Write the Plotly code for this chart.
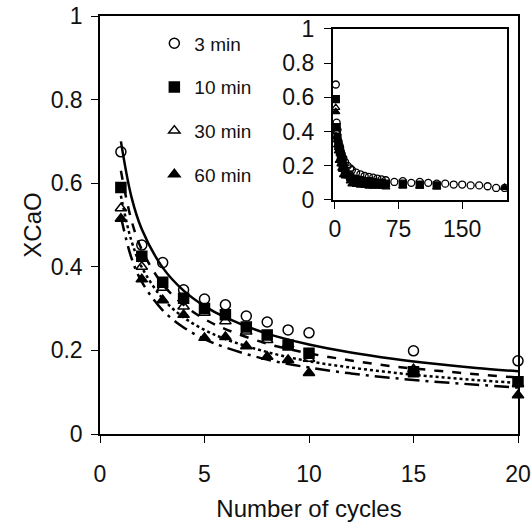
import plotly.graph_objects as go

# ---------------- data ----------------
cycles = [1, 2, 3, 4, 5, 6, 7, 8, 9, 10, 15, 20]
x3min = [0.675, 0.452, 0.410, 0.345, 0.323, 0.309, 0.282, 0.268, 0.249, 0.242, 0.199, 0.175]
x10min = [0.590, 0.425, 0.363, 0.325, 0.300, 0.285, 0.256, 0.237, 0.213, 0.193, 0.149, 0.125]
x30min = [0.540, 0.400, 0.350, 0.305, 0.290, 0.270, 0.245, 0.225, 0.215, 0.180, 0.155, 0.120]
x60min = [0.515, 0.370, 0.320, 0.285, 0.230, 0.232, 0.210, 0.185, 0.177, 0.146, 0.150, 0.093]

fit_n = [1, 1.5, 2, 3, 4, 5, 6, 8, 10, 12, 14, 16, 18, 20]
fit3 = [0.700, 0.568, 0.490, 0.398, 0.343, 0.306, 0.279, 0.240, 0.214, 0.195, 0.180, 0.168, 0.158, 0.150]
fit10 = [0.630, 0.512, 0.441, 0.358, 0.309, 0.275, 0.251, 0.216, 0.193, 0.176, 0.162, 0.152, 0.143, 0.135]
fit30 = [0.570, 0.463, 0.399, 0.324, 0.279, 0.249, 0.227, 0.196, 0.174, 0.159, 0.147, 0.137, 0.129, 0.122]
fit60 = [0.520, 0.422, 0.364, 0.296, 0.255, 0.227, 0.207, 0.178, 0.159, 0.145, 0.134, 0.125, 0.118, 0.111]

# inset: long-term runs
in3_n = [1, 2, 3, 4, 5, 6, 7, 8, 9, 10, 12, 15, 18, 20, 25, 30, 35, 40, 45, 50, 55, 60,
         70, 80, 90, 100, 110, 120, 130, 140, 150, 160, 170, 180, 190, 200]
in3_v = [0.675, 0.452, 0.410, 0.345, 0.323, 0.309, 0.282, 0.268, 0.249, 0.242, 0.220, 0.199, 0.185, 0.175,
         0.160, 0.150, 0.140, 0.135, 0.130, 0.125, 0.120, 0.115,
         0.105, 0.110, 0.100, 0.105, 0.100, 0.095, 0.095, 0.090, 0.090, 0.085, 0.085, 0.080, 0.070, 0.070]
in10_n = [1, 2, 3, 4, 5, 6, 7, 8, 9, 10, 12, 15, 18, 20, 25, 30, 35, 40, 45, 50, 55, 60, 80, 100, 120]
in10_v = [0.590, 0.425, 0.363, 0.325, 0.300, 0.285, 0.256, 0.237, 0.213, 0.193, 0.170, 0.149, 0.135, 0.125,
          0.120, 0.115, 0.110, 0.110, 0.105, 0.100, 0.100, 0.095, 0.095, 0.090, 0.085]
in30_n = [1, 2, 3, 4, 5, 6, 7, 8, 9, 10, 12, 15, 18, 20, 25, 30, 35, 40, 45, 50, 55, 60]
in30_v = [0.540, 0.400, 0.350, 0.305, 0.290, 0.270, 0.245, 0.225, 0.215, 0.180, 0.165, 0.155, 0.130, 0.120,
          0.115, 0.110, 0.105, 0.100, 0.100, 0.095, 0.095, 0.090]
in60_n = [1, 2, 3, 4, 5, 6, 7, 8, 9, 10, 12, 15, 18, 20, 25, 30, 35, 40, 45, 50, 55, 60, 80, 100, 120, 200]
in60_v = [0.515, 0.370, 0.320, 0.285, 0.230, 0.232, 0.210, 0.185, 0.177, 0.146, 0.140, 0.150, 0.110, 0.093,
          0.090, 0.085, 0.085, 0.080, 0.080, 0.080, 0.080, 0.075, 0.080, 0.080, 0.075, 0.072]

labels = ["3 min", "10 min", "30 min", "60 min"]
symbols = ["circle-open", "square", "triangle-up-open", "triangle-up"]

FONT = "Liberation Sans, Arial, sans-serif"
INK = "#000000"

fig = go.Figure()

# fitted curves (main)
for vals, dash in [(fit3, "solid"), (fit10, "dash"), (fit30, "dot"), (fit60, "longdashdot")]:
    fig.add_trace(go.Scatter(x=fit_n, y=vals, mode="lines", line=dict(color=INK, width=2.5, dash=dash, shape="spline"),
                             showlegend=False, hoverinfo="skip", xaxis="x", yaxis="y"))

# data points (main)
for i, (vals, sym) in enumerate(zip([x3min, x10min, x30min, x60min], symbols)):
    fig.add_trace(go.Scatter(
        x=cycles, y=vals, mode="markers", name=labels[i], legendgroup=labels[i],
        marker=dict(symbol=sym, size=10, color=INK, line=dict(color=INK, width=1.5)),
        cliponaxis=False, xaxis="x", yaxis="y"))

# inset points
for nn, vv, sym in [(in60_n, in60_v, symbols[3]), (in30_n, in30_v, symbols[2]),
                    (in10_n, in10_v, symbols[1]), (in3_n, in3_v, symbols[0])]:
    fig.add_trace(go.Scatter(
        x=nn, y=vv, mode="markers", showlegend=False, hoverinfo="skip",
        marker=dict(symbol=sym, size=7, color=INK, line=dict(color=INK, width=1.3)),
        cliponaxis=False, xaxis="x2", yaxis="y2"))

axis_common = dict(showgrid=False, zeroline=False, showline=True, linecolor=INK, linewidth=1.5,
                   mirror=True, ticks="outside", ticklen=7, tickcolor=INK, tickwidth=1.2,
                   automargin=False,
                   tickfont=dict(family=FONT, size=23, color="#111"))

fig.update_layout(
    width=532, height=524,
    margin=dict(l=100, r=14, t=16, b=90),
    paper_bgcolor="white", plot_bgcolor="white",
    font=dict(family=FONT, color="#111"),
    xaxis=dict(range=[0, 20], tickvals=[0, 5, 10, 15, 20], ticklabelstandoff=12,
               title=dict(text="Number of cycles", font=dict(size=24), standoff=14),
               domain=[0, 1], **axis_common),
    yaxis=dict(range=[0, 1], tickvals=[0, 0.2, 0.4, 0.6, 0.8, 1], ticklabelstandoff=4,
               title=dict(text="XCaO", font=dict(size=24), standoff=2),
               domain=[0, 1], **axis_common),
    xaxis2=dict(range=[-2.5, 203], tickvals=[0, 75, 150], anchor="y2", ticklabelstandoff=0,
                domain=[0.557, 0.974], **{**axis_common, "linewidth": 2}),
    yaxis2=dict(range=[0, 1], tickvals=[0, 0.2, 0.4, 0.6, 0.8, 1], anchor="x2", ticklabelstandoff=5,
                domain=[0.560, 0.969], **{**axis_common, "linewidth": 2}),
    legend=dict(x=0.13, y=0.980, xanchor="left", yanchor="top", bgcolor="rgba(0,0,0,0)",
                font=dict(family=FONT, size=19, color="#111"), tracegroupgap=16,
                traceorder="grouped", itemwidth=30),
    showlegend=True,
)

fig.write_html("out.html")
